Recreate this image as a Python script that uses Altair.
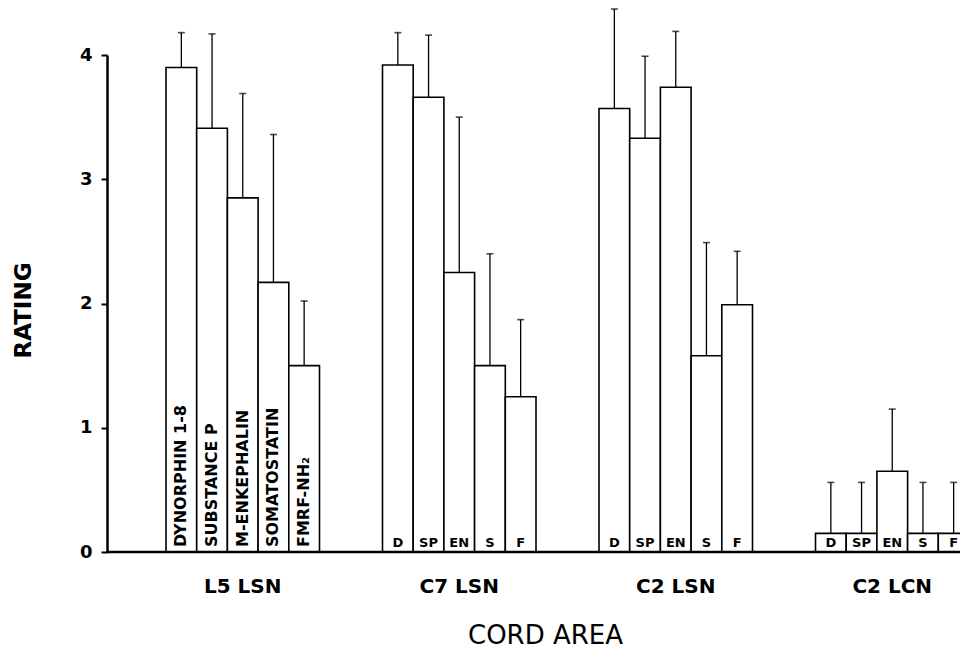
import altair as alt
import pandas as pd

groups = ["L5 LSN", "C7 LSN", "C2 LSN", "C2 LCN"]
peptides = ["D", "SP", "EN", "S", "F"]
full_names = ["DYNORPHIN 1-8", "SUBSTANCE P", "M-ENKEPHALIN", "SOMATOSTATIN", "FMRF-NH₂"]

mean_l5_lsn = [3.90, 3.41, 2.85, 2.17, 1.50]
upper_l5_lsn = [4.18, 4.17, 3.69, 3.36, 2.02]
mean_c7_lsn = [3.92, 3.66, 2.25, 1.50, 1.25]
upper_c7_lsn = [4.18, 4.16, 3.50, 2.40, 1.87]
mean_c2_lsn = [3.57, 3.33, 3.74, 1.58, 1.99]
upper_c2_lsn = [4.37, 3.99, 4.19, 2.49, 2.42]
mean_c2_lcn = [0.15, 0.15, 0.65, 0.15, 0.15]
upper_c2_lcn = [0.56, 0.56, 1.15, 0.56, 0.56]

means = [mean_l5_lsn, mean_c7_lsn, mean_c2_lsn, mean_c2_lcn]
uppers = [upper_l5_lsn, upper_c7_lsn, upper_c2_lsn, upper_c2_lcn]

rows = []
for gi, g in enumerate(groups):
    for pi, p in enumerate(peptides):
        rows.append({
            "group": g,
            "pep": p,
            "mean": means[gi][pi],
            "upper": uppers[gi][pi],
            "label": full_names[pi] if gi == 0 else p,
            "rotated": gi == 0,
        })
df = pd.DataFrame(rows)

W, H = 853, 497
FONT = "DejaVu Sans"

x_enc = alt.X(
    "group:N",
    sort=groups,
    scale=alt.Scale(range=[59, 862], paddingInner=0.291, paddingOuter=0),
    axis=alt.Axis(
        title="CORD AREA",
        ticks=False,
        domain=False,
        labelAngle=0,
        labelPadding=24,
        labelFont=FONT,
        labelFontWeight="bold",
        labelFontSize=20,
        labelColor="black",
        titleFont=FONT,
        titleFontWeight="normal",
        titleFontSize=26,
        titleColor="black",
        titleX=438,
        titleY=91,
        titleAlign="center",
        titleBaseline="alphabetic",
    ),
)
xo_enc = alt.XOffset("pep:N", sort=peptides, scale=alt.Scale(paddingInner=0, paddingOuter=0))
y_enc = alt.Y(
    "mean:Q",
    scale=alt.Scale(domain=[0, 4], nice=False, zero=True),
    axis=alt.Axis(
        values=[0, 1, 2, 3, 4],
        format="d",
        grid=False,
        title="RATING",
        domainWidth=2.5,
        domainColor="black",
        tickColor="black",
        tickWidth=2,
        tickSize=6,
        labelPadding=9,
        labelFont=FONT,
        labelFontWeight="bold",
        labelFontSize=18,
        labelColor="black",
        titleFont=FONT,
        titleFontWeight="bold",
        titleFontSize=23,
        titleColor="black",
        titleAngle=270,
        titleX=-84,
        titleY=255,
        titleAlign="center",
        titleBaseline="middle",
    ),
)

base = alt.Chart(df)
xg = alt.X("group:N", sort=groups)
xo = alt.XOffset("pep:N", sort=peptides)

bars = base.mark_bar(fill="white", stroke="black", strokeWidth=1.6).encode(
    x=x_enc, xOffset=xo_enc, y=y_enc
)
err = base.mark_rule(color="black", strokeWidth=1.3).encode(
    x=xg, xOffset=xo, y="mean:Q", y2="upper:Q"
)
caps = base.mark_tick(color="black", thickness=1.6, size=7).encode(
    x=xg, xOffset=xo, y="upper:Q"
)
rot_text = base.transform_filter("datum.rotated").mark_text(
    angle=270, align="left", baseline="middle", dx=5,
    font=FONT, fontWeight="bold", fontSize=16, color="black"
).encode(
    x=xg, xOffset=xo, y=alt.datum(0), text="label:N"
)
abbr_text = base.transform_filter("!datum.rotated").mark_text(
    align="center", baseline="alphabetic", dy=-5,
    font=FONT, fontWeight="bold", fontSize=13, color="black"
).encode(
    x=xg, xOffset=xo, y=alt.datum(0), text="label:N"
)
xline = alt.Chart(pd.DataFrame({"a": [0]})).mark_rule(color="black", strokeWidth=2.5).encode(
    x=alt.value(0), x2=alt.value(W), y=alt.value(H)
)

chart = alt.layer(bars, err, caps, rot_text, abbr_text, xline).properties(
    width=W,
    height=H,
    padding={"left": 99, "top": 47, "right": 0, "bottom": 100},
    autosize=alt.AutoSizeParams(type="none"),
    background="white",
).configure_view(stroke=None)

chart.save("out.html", embed_options={"renderer": "svg", "actions": False})
